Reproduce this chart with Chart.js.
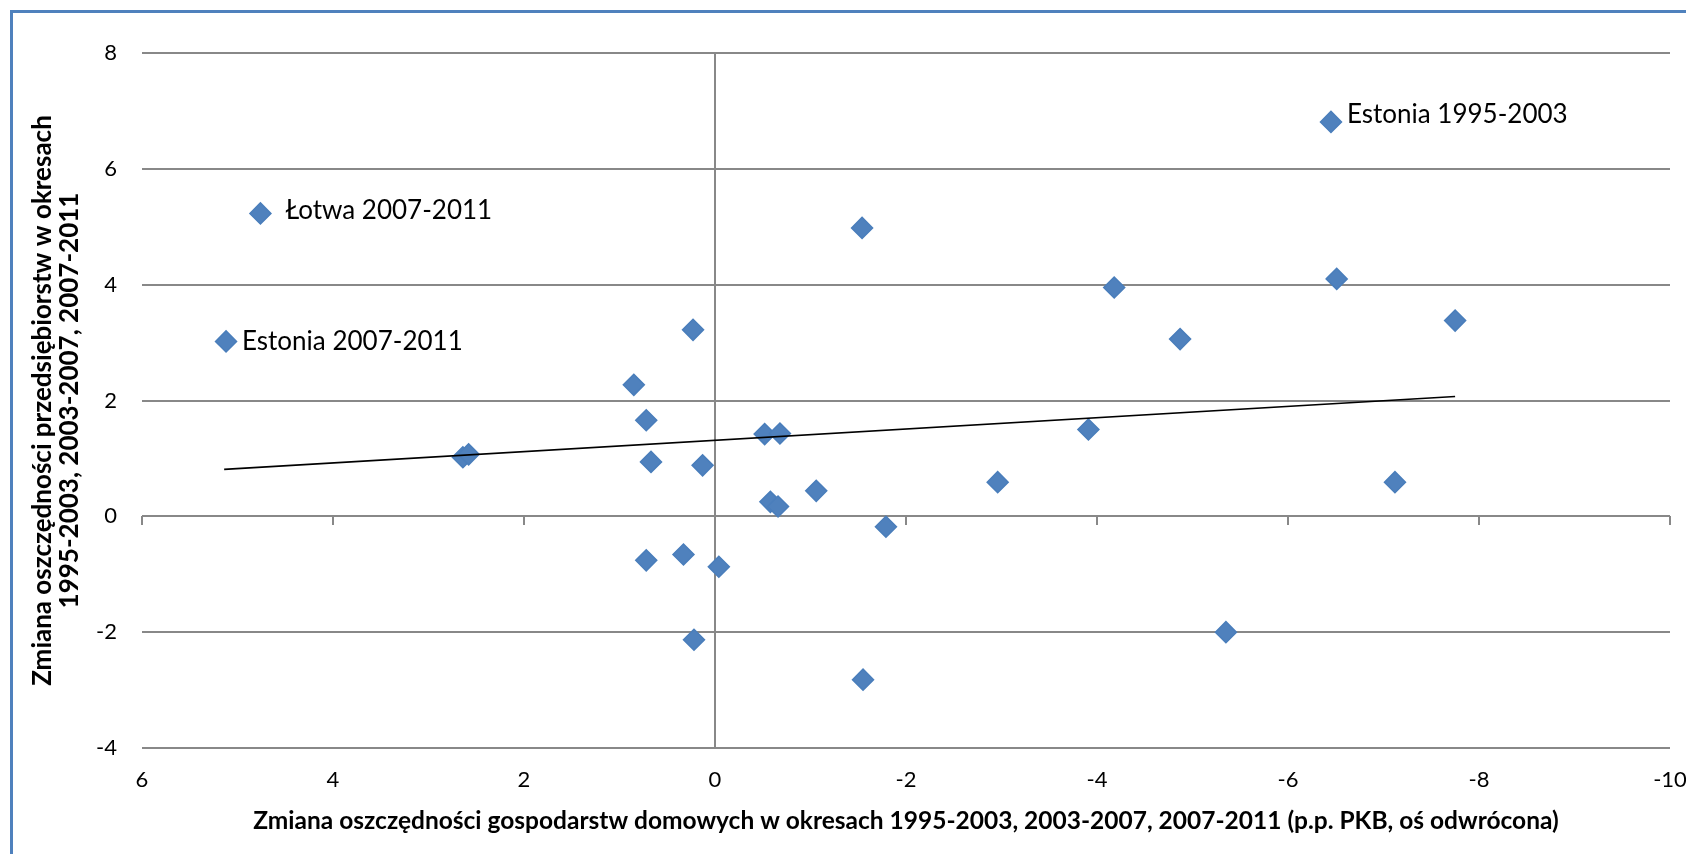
<!DOCTYPE html>
<html>
<head>
<meta charset="utf-8">
<script src="https://cdn.jsdelivr.net/npm/chart.js@4.4.0/dist/chart.umd.min.js"></script>
<style>
  html, body { margin: 0; padding: 0; background: #fff; overflow: hidden; }
  #frame { position: absolute; left: 10px; top: 10px; width: 1720px; height: 900px; border: 3px solid #4F81BD; }
  #wrap { position: absolute; left: 0; top: 0; width: 1686px; height: 854px; }
</style>
</head>
<body>
<div id="frame"></div>
<div id="wrap"><canvas id="chart"></canvas></div>
<script>
// household savings change (x, reversed axis) vs corporate savings change (y)
const xValues = [4.76, 5.12, -6.45, -1.54, -4.18, -6.51, -7.75, -4.87, 0.23, 0.85,
                 0.72, 0.67, 0.13, 2.64, 2.58, -0.52, -0.68, -0.58, -0.66, -1.06,
                 0.72, 0.33, -0.04, 0.22, -1.79, -3.91, -2.96, -7.12, -5.35, -1.55];
const yValues = [5.23, 3.02, 6.81, 4.98, 3.95, 4.10, 3.38, 3.06, 3.22, 2.27,
                 1.66, 0.94, 0.88, 1.02, 1.07, 1.42, 1.43, 0.25, 0.17, 0.44,
                 -0.76, -0.66, -0.87, -2.13, -0.18, 1.50, 0.59, 0.59, -2.00, -2.82];
// names of the first points in the list
const pointNames = ["Łotwa 2007-2011", "Estonia 2007-2011", "Estonia 1995-2003"];

// linear trend line end points
const trendX = [5.14, -7.75];
const trendY = [0.81, 2.07];

const xTickValues = [6, 4, 2, 0, -2, -4, -6, -8, -10];
const yTickValues = [-4, -2, 0, 2, 4, 6, 8];

const xTitle = "Zmiana oszczędności gospodarstw domowych w okresach 1995-2003, 2003-2007, 2007-2011 (p.p. PKB, oś odwrócona)";
const yTitle = ["Zmiana oszczędności przedsiębiorstw w okresach", "1995-2003, 2003-2007, 2007-2011"];

const gridColor = "#888888";
const labelDx = [25, 16, 16];
const labelDy = [-3, 0, -7];

const points = xValues.map((x, i) => ({ x: x, y: yValues[i] }));
const trend = trendX.map((x, i) => ({ x: x, y: trendY[i] }));

const pointNamesPlugin = {
  id: "pointNames",
  afterDatasetsDraw(chart) {
    const meta = chart.getDatasetMeta(1);
    const ctx = chart.ctx;
    ctx.save();
    ctx.font = "26px Lato";
    ctx.fillStyle = "#000";
    ctx.textBaseline = "middle";
    ctx.textAlign = "left";
    pointNames.forEach((name, i) => {
      const el = meta.data[i];
      ctx.fillText(name, el.x + labelDx[i], el.y + labelDy[i]);
    });
    ctx.restore();
  }
};

new Chart(document.getElementById("chart"), {
  type: "scatter",
  data: {
    datasets: [
      {
        label: "Trend",
        data: trend,
        showLine: true,
        borderColor: "#000",
        borderWidth: 1.6,
        pointRadius: 0,
        xAxisID: "x",
        yAxisID: "y"
      },
      {
        label: "Kraje",
        data: points,
        pointStyle: "rectRot",
        pointRadius: 10.5,
        backgroundColor: "#4F81BD",
        borderColor: "#4A7EBB",
        borderWidth: 1.5,
        xAxisID: "x",
        yAxisID: "y"
      }
    ]
  },
  options: {
    responsive: true,
    maintainAspectRatio: false,
    animation: false,
    layout: { padding: { left: 14, top: 53, right: 16, bottom: 0 } },
    plugins: {
      legend: { display: false },
      tooltip: { enabled: false }
    },
    scales: {
      x: {
        type: "linear",
        position: "bottom",
        min: -10,
        max: 6,
        reverse: true,
        afterBuildTicks: (s) => { s.ticks = xTickValues.map(v => ({ value: v })); },
        afterFit: (s) => { s.height = 106; s.paddingLeft = 0; s.paddingRight = 0; },
        ticks: { padding: 19, color: "#000", maxRotation: 0, autoSkip: false, font: { family: "Lato", size: 22 } },
        grid: {
          drawTicks: false,
          lineWidth: 2,
          color: (c) => (c.tick && c.tick.value === 0 ? gridColor : "rgba(0,0,0,0)")
        },
        border: { display: false },
        title: {
          display: true,
          text: xTitle,
          color: "#000",
          font: { family: "Lato", size: 24.5, weight: "bold" },
          padding: { top: 0, bottom: 18 }
        }
      },
      x0: {
        type: "linear",
        position: { y: 0 },
        min: -10,
        max: 6,
        reverse: true,
        afterBuildTicks: (s) => { s.ticks = xTickValues.map(v => ({ value: v })); },
        afterFit: (s) => { s.paddingLeft = 0; s.paddingRight = 0; },
        ticks: { display: false },
        grid: { drawOnChartArea: false, drawTicks: true, tickLength: 9, lineWidth: 2, color: gridColor },
        border: { display: false }
      },
      y: {
        type: "linear",
        position: "left",
        min: -4,
        max: 8,
        afterBuildTicks: (s) => { s.ticks = yTickValues.map(v => ({ value: v })); },
        afterFit: (s) => { s.width = 128; },
        ticks: { padding: 25, color: "#000", font: { family: "Lato", size: 22 } },
        grid: { drawTicks: false, lineWidth: 2, color: gridColor },
        border: { display: false },
        title: {
          display: true,
          text: yTitle,
          color: "#000",
          font: { family: "Lato", size: 26, weight: "bold", lineHeight: 1.05 },
          padding: { top: 15, bottom: 0 }
        }
      }
    }
  },
  plugins: [pointNamesPlugin]
});
</script>
</body>
</html>
